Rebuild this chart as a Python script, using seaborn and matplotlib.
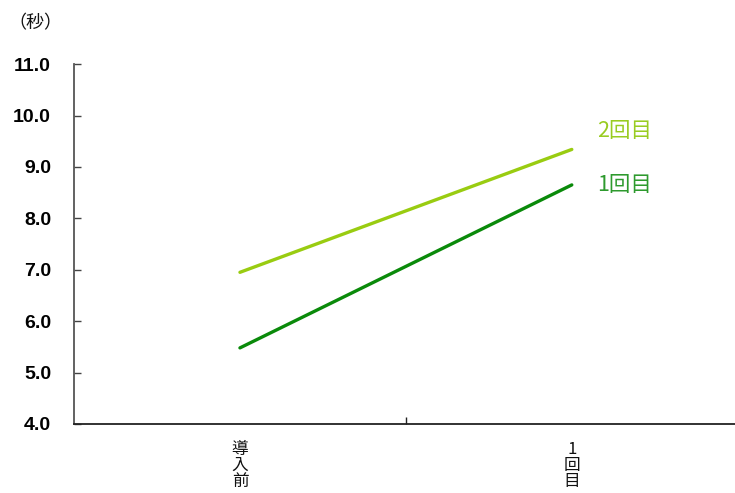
import matplotlib
matplotlib.use("Agg")
import matplotlib.pyplot as plt
from matplotlib.ticker import FixedLocator
import seaborn as sns
import pandas as pd

categories = ["導入前", "1回目"]
series_names = ["1回目", "2回目"]
values_1st = [5.48, 8.65]
values_2nd = [6.95, 9.34]
y_ticks = [4.0, 5.0, 6.0, 7.0, 8.0, 9.0, 10.0, 11.0]

colors = {"1回目": "#0a8a0a", "2回目": "#99cc11"}
label_colors = {"1回目": "#2e9a2e", "2回目": "#99cc22"}

df = pd.DataFrame({
    "時期": categories * 2,
    "系列": [series_names[0]] * 2 + [series_names[1]] * 2,
    "秒": values_1st + values_2nd,
})

sns.set_theme(style="white")
plt.rcParams["font.family"] = ["Noto Sans CJK JP", "DejaVu Sans"]

fig = plt.figure(figsize=(7.35, 4.93), dpi=100)
ax = fig.add_axes([0.1007, 0.14, 0.903, 0.730])

sns.lineplot(data=df, x="時期", y="秒", hue="系列", palette=colors,
             linewidth=2.4, legend=False, ax=ax, sort=False)

ax.set_ylim(4.0, 11.0)
ax.set_xlim(-0.5, 1.5)
ax.set_yticks(y_ticks)
ax.set_yticklabels([f"{v:.1f}" for v in y_ticks], color="black",
                   fontfamily="Liberation Sans", fontweight="bold", fontsize=14)

ax.set_xticks([0, 1])
ax.set_xticklabels(["\n".join(c) for c in categories], fontsize=12,
                   linespacing=0.95, color="#111111")
ax.xaxis.set_minor_locator(FixedLocator([0.5]))
ax.tick_params(axis="x", which="major", length=0, pad=12)
ax.tick_params(axis="x", which="minor", direction="in", length=5,
               width=1.0, color="#222222", bottom=True)
ax.tick_params(axis="y", direction="in", length=5, width=1.0,
               color="#444444", left=True, pad=16.5)

for side in ["top", "right"]:
    ax.spines[side].set_visible(False)
ax.spines["left"].set_color("#555555")
ax.spines["left"].set_linewidth(1.3)
ax.spines["bottom"].set_color("#222222")
ax.spines["bottom"].set_linewidth(1.3)
ax.set_xlabel("")
ax.set_ylabel("")

# series names beside the line ends
ends = {"1回目": values_1st[-1], "2回目": values_2nd[-1]}
offsets = {"1回目": 0.0, "2回目": 0.35}
for name in series_names:
    ax.text(1.075, ends[name] + offsets[name], name, color=label_colors[name],
            fontsize=15.5, va="center", ha="left")

fig.text(0.012, 0.952, "（秒）", fontsize=13, ha="left", va="center",
         color="#111111")

fig.savefig("out.png", dpi=100)
